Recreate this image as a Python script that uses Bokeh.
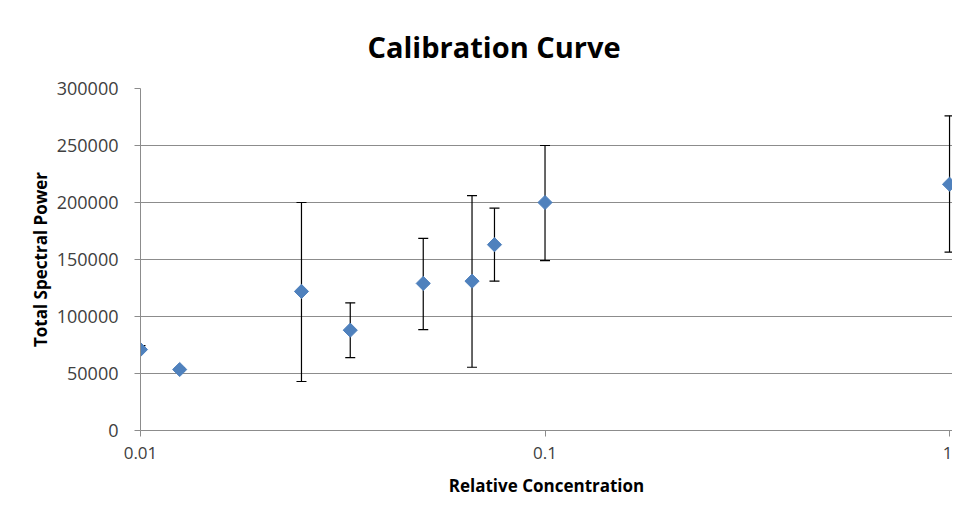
import numpy as np
from bokeh.plotting import figure
from bokeh.models import ColumnDataSource, Whisker, TeeHead, FixedTicker, Range1d, NumeralTickFormatter
from bokeh.embed import file_html
from bokeh.resources import INLINE

# ---- data ----
concentration = [0.01, 0.0125, 0.025, 0.033, 0.05, 0.066, 0.075, 0.1, 1.0]
spectral_power = [71000, 53500, 122000, 88000, 129000, 131000, 163000, 200000, 216000]
err_upper = [74500, 55000, 200000, 112000, 168500, 206000, 195000, 250000, 276000]
err_lower = [70000, 52000, 43000, 64000, 88500, 55500, 131000, 149000, 156500]
x_ticks = [0.01, 0.1, 1]
y_ticks = [0, 50000, 100000, 150000, 200000, 250000, 300000]

src = ColumnDataSource(dict(x=concentration, y=spectral_power, up=err_upper, lo=err_lower))

FONT = "Open Sans"
GRID = "#8c8c8c"

p = figure(width=952, height=504, x_axis_type="log",
           x_range=Range1d(0.01, 1.017),
           y_range=Range1d(0, 300000),
           output_backend="svg", toolbar_location=None,
           min_border_left=140, min_border_right=0,
           min_border_top=88, min_border_bottom=74)

p.title.text = "Calibration Curve"
p.title.text_font = FONT
p.title.text_font_size = "29px"
p.title.text_font_style = "bold"
p.title.text_color = "#000000"
p.title.align = "left"
p.title.offset = 227
p.title.standoff = 45

p.outline_line_color = None
p.background_fill_color = "white"
p.border_fill_color = "white"

# grid
p.xgrid.grid_line_color = None
p.ygrid.grid_line_color = GRID
p.ygrid.grid_line_width = 1
p.ygrid.ticker = FixedTicker(ticks=y_ticks)

# axes
p.xaxis.ticker = FixedTicker(ticks=x_ticks, minor_ticks=[])
p.xaxis.major_label_overrides = {0.01: "0.01", 0.1: "0.1", 1: "1"}
p.yaxis.ticker = FixedTicker(ticks=y_ticks, minor_ticks=[])
p.yaxis.formatter = NumeralTickFormatter(format="0")
for ax in (p.xaxis[0], p.yaxis[0]):
    ax.axis_line_color = GRID
    ax.major_tick_line_color = GRID
    ax.minor_tick_line_color = None
    ax.major_tick_in = 0
    ax.major_tick_out = 6
    ax.major_label_text_font = FONT
    ax.major_label_text_color = "#404040"
    ax.axis_label_text_font = FONT
    ax.axis_label_text_font_size = "17px"
    ax.axis_label_text_font_style = "bold"
    ax.axis_label_text_color = "#000000"

p.xaxis.major_label_text_font_size = "17px"
p.yaxis.major_label_text_font_size = "18px"
p.xaxis.axis_label = "Relative Concentration"
p.yaxis.axis_label = "Total Spectral Power"
p.xaxis.major_label_standoff = 10
p.xaxis.axis_label_standoff = 12
p.yaxis.major_label_standoff = 16
p.yaxis.axis_label_standoff = 2

# error bars
wh = Whisker(source=src, base="x", upper="up", lower="lo", dimension="height",
             line_color="black", line_width=1.2,
             upper_head=TeeHead(size=10, line_color="black", line_width=1.2),
             lower_head=TeeHead(size=10, line_color="black", line_width=1.2))
p.add_layout(wh)

# markers (rotated squares = Excel diamonds)
p.scatter("x", "y", source=src, marker="square", size=10, angle=np.pi / 4,
          fill_color="#4F81BD", line_color="#4F81BD")

open("out.html", "w").write(file_html(p, INLINE))
